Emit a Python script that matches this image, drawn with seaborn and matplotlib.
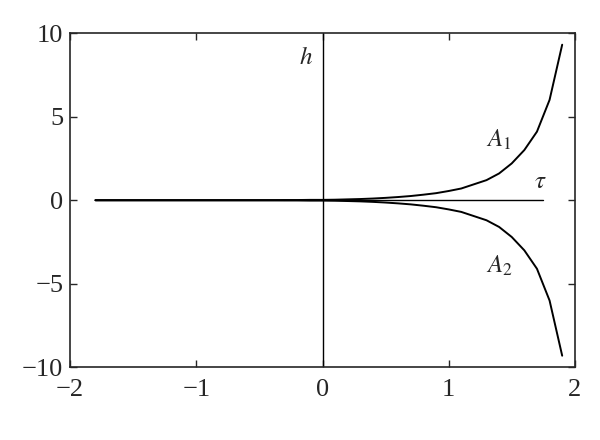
import pandas as pd
import matplotlib
matplotlib.use('Agg')
import matplotlib.pyplot as plt
import seaborn as sns

# values
tau = [-1.8, -1.7, -1.6, -1.5, -1.4, -1.3, -1.2, -1.1, -1.0, -0.9, -0.8, -0.7, -0.6,
       -0.5, -0.4, -0.3, -0.2, -0.1, 0.0, 0.1, 0.2, 0.3, 0.4, 0.5, 0.6, 0.7, 0.8,
       0.9, 1.0, 1.1, 1.2, 1.3, 1.4, 1.5, 1.6, 1.7, 1.8, 1.9]
a1 = [0.0, 0.0, 0.0, 0.0, 0.0, 0.0, 0.0, 0.0, 0.0, 0.0, 0.0, 0.0, 0.0,
      0.0, 0.0, 0.01, 0.01, 0.02, 0.02, 0.03, 0.05, 0.07, 0.1, 0.14, 0.19, 0.25, 0.33,
      0.42, 0.55, 0.7, 0.95, 1.2, 1.6, 2.2, 3.0, 4.1, 6.0, 9.3]
a2 = [-v for v in a1]

# horizontal tau axis drawn inside the plot
tau_axis = [-1.8, 1.75]

df = pd.DataFrame({'tau': tau * 2, 'h': a1 + a2,
                   'curve': ['A1'] * len(tau) + ['A2'] * len(tau)})

sns.set_style('ticks')
plt.rcParams['font.family'] = ['Liberation Serif', 'DejaVu Serif']
plt.rcParams['mathtext.fontset'] = 'stix'

fig, ax = plt.subplots(figsize=(6, 4.4), dpi=100)
sns.lineplot(data=df, x='tau', y='h', units='curve', estimator=None,
             color='black', lw=1.4, ax=ax)
sns.lineplot(x=tau_axis, y=[0, 0], color='black', lw=1.0, ax=ax)
ax.axvline(0, color='black', lw=1.0)

ax.text(-0.13, 8.5, r'$h$', fontsize=18, ha='center', va='center')
ax.text(1.73, 1.1, r'$\tau$', fontsize=18, ha='center', va='center')
ax.text(1.4, 3.6, r'$A_1$', fontsize=18, ha='center', va='center')
ax.text(1.4, -3.9, r'$A_2$', fontsize=18, ha='center', va='center')

ax.set_xlim(-2, 2)
ax.set_ylim(-10, 10)
ax.set_xticks([-2, -1, 0, 1, 2])
ax.set_yticks([-10, -5, 0, 5, 10])
ax.tick_params(direction='in', top=True, right=True, labelsize=19, length=5, width=1)
ax.tick_params(axis='x', pad=8)
ax.tick_params(axis='y', pad=5)
for s in ax.spines.values():
    s.set_linewidth(1.2)
ax.set_xlabel('')
ax.set_ylabel('')

fig.subplots_adjust(left=0.117, right=0.958, top=0.925, bottom=0.165)
fig.savefig('out.png', dpi=100)
